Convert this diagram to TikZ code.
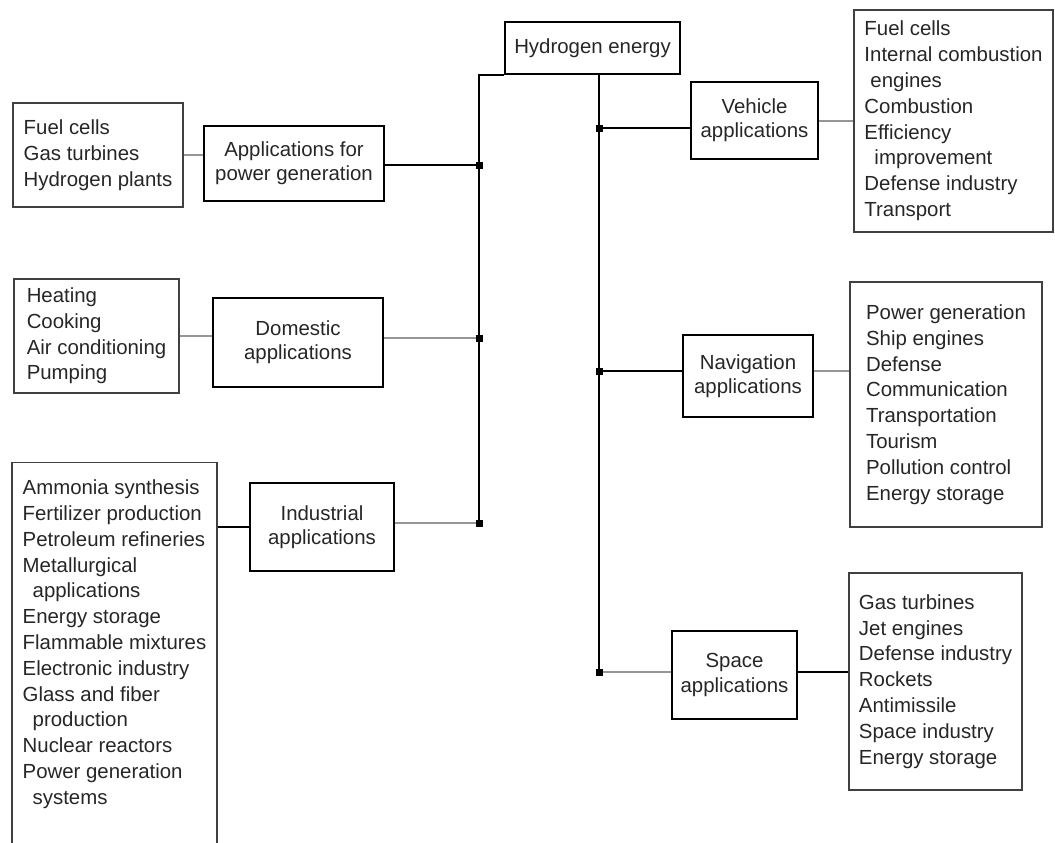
\documentclass[tikz,border=0pt]{standalone}
\usepackage{fontspec}
\setmainfont{Liberation Sans}
\usetikzlibrary{positioning}
\newcommand{\ind}{\hspace*{5pt}}
\begin{document}
\begin{tikzpicture}[x=0.5pt,y=-0.5pt,
    appbox/.style={shape=rectangle,draw=black,line width=1pt,align=center,text=black!85,
      inner sep=1pt,font=\fontsize{10.2}{12.2}\selectfont},
    listbox/.style={shape=rectangle,draw=black!75,line width=0.7pt,align=left,text=black!85,
      inner xsep=4.5pt,font=\fontsize{10.2}{12.9}\selectfont},
    blkline/.style={draw=black,line width=1.1pt},
    gryline/.style={draw=lnGray,line width=1pt},
    jdot/.style={shape=rectangle,fill=black,inner sep=0pt,minimum size=3.5pt}]
    \definecolor{lnGray}{RGB}{150,150,150}
    \useasboundingbox (0,0) rectangle (1055,842);
    % centre and application boxes
    \node[appbox,minimum width=87.5pt,minimum height=26pt] (hyd) at (592.5,48) {Hydrogen energy};
    \node[appbox,minimum width=90pt,minimum height=37.5pt] (pwr) at (294,163.5) {Applications for\\power generation};
    \node[appbox,minimum width=85pt,minimum height=44.5pt] (dom) at (298,342.5) {Domestic\\applications};
    \node[appbox,minimum width=72pt,minimum height=44pt] (ind) at (322,527) {Industrial\\applications};
    \node[appbox,minimum width=63.5pt,minimum height=38.5pt] (veh) at (754.5,120.5) {Vehicle\\applications};
    \node[appbox,minimum width=65pt,minimum height=41pt] (nav) at (748,376) {Navigation\\applications};
    \node[appbox,minimum width=62.5pt,minimum height=44pt] (spc) at (734.5,675) {Space\\applications};
    % lists
    \node[listbox,minimum width=85pt,minimum height=52pt] (pwrlist) at (98,155)
      {Fuel cells\\Gas turbines\\Hydrogen plants};
    \node[listbox,minimum width=82.5pt,minimum height=57pt] (domlist) at (96.5,336)
      {Heating\\Cooking\\Air conditioning\\Pumping};
    \node[listbox,minimum width=102.5pt,inner ysep=8.6pt,text depth=200pt,anchor=north] (indlist) at (114.5,462)
      {Ammonia synthesis\\Fertilizer production\\Petroleum refineries\\Metallurgical\\\ind applications\\Energy storage\\Flammable mixtures\\Electronic industry\\Glass and fiber\\\ind production\\Nuclear reactors\\Power generation\\\ind systems};
    \node[listbox,minimum width=99.5pt,minimum height=111pt] (vehlist) at (953.5,121)
      {Fuel cells\\Internal combustion\\\hspace*{3pt}engines\\Combustion\\Efficiency\\\ind improvement\\Defense industry\\Transport};
    \node[listbox,minimum width=96pt,minimum height=122.5pt] (navlist) at (946,404.5)
      {Power generation\\Ship engines\\Defense\\Communication\\Transportation\\Tourism\\Pollution control\\Energy storage};
    \node[listbox,minimum width=86.5pt,minimum height=108.5pt] (spclist) at (935.5,681.5)
      {Gas turbines\\Jet engines\\Defense industry\\Rockets\\Antimissile\\Space industry\\Energy storage};
    % junctions on the two trunks
    \coordinate (jp) at (479,165);
    \coordinate (jd) at (479,338);
    \coordinate (ji) at (479,523);
    \coordinate (jv) at (599,128);
    \coordinate (jn) at (599,371);
    \coordinate (js) at (599,672);
    \draw[blkline] (hyd.south west) -| (ji);
    \draw[blkline] (hyd.south -| jv) -- (js);
    % left side
    \draw[gryline] (pwrlist.east) -- (pwrlist.east -| pwr.west);
    \draw[blkline] (pwr.east |- jp) -- (jp);
    \draw[gryline] (domlist.east) -- (domlist.east -| dom.west);
    \draw[gryline] (dom.east |- jd) -- (jd);
    \draw[blkline] (ind.west) -- (ind.west -| indlist.east);
    \draw[gryline] (ind.east |- ji) -- (ji);
    % right side
    \draw[blkline] (jv) -- (jv -| veh.west);
    \draw[gryline] (veh.east) -- (veh.east -| vehlist.west);
    \draw[blkline] (jn) -- (jn -| nav.west);
    \draw[gryline] (nav.east |- jn) -- (navlist.west |- jn);
    \draw[gryline] (js) -- (js -| spc.west);
    \draw[blkline] (spc.east |- js) -- (spclist.west |- js);
    \foreach \j in {jp,jd,ji,jv,jn,js}
      \node[jdot] (d\j) at (\j) {};
\end{tikzpicture}
\end{document}
